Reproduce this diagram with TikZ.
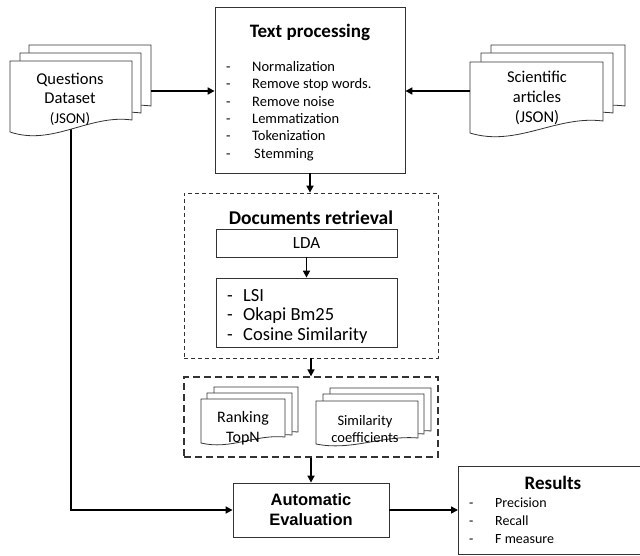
\documentclass[tikz,border=0pt]{standalone}
\usepackage{fontspec}
\setmainfont{Carlito}
\newfontfamily\arialfont{Liberation Sans}
\usetikzlibrary{positioning,arrows.meta}

\newcommand{\fs}[2]{\fontsize{#1}{#2}\selectfont}
\newcommand{\itm}[2]{\makebox[#1][l]{-}#2}
% one sheet of a stack: x1, y1, x2, y2 (bottom left), wave
\newcommand{\docpage}[5]{%
  \draw[page] (#1,#2) -- (#3,#2) -- (#3,{#4-#5})
    .. controls ({#3-0.35*(#3-#1)},{#4-1.5*#5}) and ({#1+0.35*(#3-#1)},{#4+1.2*#5}) .. (#1,#4) -- cycle;}

\begin{document}
\begin{tikzpicture}[
    x=1pt, y=-1pt,
    box/.style={
        rectangle, draw=black!80, fill=white,
        line width=0.8pt, inner sep=0pt
    },
    page/.style={draw=black!80, fill=white, line width=0.8pt},
    dashbox/.style={box, dash pattern=on 4pt off 3pt},
    heavydash/.style={box, line width=1.3pt, dash pattern=on 7pt off 4pt},
    arrow/.style={-{Triangle[length=7pt,width=7pt]}, line width=1.6pt}
]
    \useasboundingbox (0,0) rectangle (640,556);
    \clip (0,0) rectangle (640,556);

    % boxes
    \node[box, minimum width=190pt, minimum height=166pt] (txtproc) at (310,90) {};
    \node[font=\fs{19}{22}\bfseries] (txtproc-title) at (310,32) {Text processing};
    \node[anchor=north west, align=left, inner sep=0pt, font=\fs{14.5}{17.4}] (txtproc-list) at (226,61)
        {\itm{26pt}{Normalization}\\ \itm{26pt}{Remove stop words.}\\ \itm{26pt}{Remove noise}\\
         \itm{26pt}{Lemmatization}\\ \itm{26pt}{Tokenization}\\ \itm{26pt}{\hspace{2pt}Stemming}};

    \node[dashbox, minimum width=254pt, minimum height=165pt] (docret) at (311,275.5) {};
    \node[font=\fs{19.5}{22}\bfseries] (docret-title) at (311,218) {Documents retrieval};
    \node[box, minimum width=181pt, minimum height=28pt, font=\fs{17}{20}] (lda) at (306.5,243) {LDA};
    \node[box, minimum width=181pt, minimum height=69pt] (simlist) at (306.5,312.5) {};
    \node[anchor=west, align=left, inner sep=0pt, font=\fs{18.5}{19.5}] (simlist-txt) at (227,316)
        {\itm{16pt}{LSI}\\ \itm{16pt}{Okapi Bm25}\\ \itm{16pt}{Cosine Similarity}};

    \node[heavydash, minimum width=254pt, minimum height=80pt] (outbox) at (311,417) {};
    \node[box, minimum width=156pt, minimum height=54pt, align=center,
          font=\arialfont\bfseries\fs{16.5}{20}] (autoeval) at (311,510) {Automatic\\Evaluation};
    \node[box, anchor=north west, minimum width=200pt, minimum height=88pt] (results) at (458,466) {};
    \node[font=\fs{19}{22}\bfseries] (results-title) at (553,483) {Results};
    \node[anchor=north west, align=left, inner sep=0pt, font=\fs{14}{18}] (results-list) at (469,498)
        {\itm{26pt}{Precision}\\ \itm{26pt}{Recall}\\ \itm{26pt}{F measure}};

    % questions line runs under the sheets
    \coordinate (questB) at (71,125);
    \draw[arrow] (questB) |- (autoeval.west);

    % document stacks
    \docpage{29}{45}{151}{118}{12}
    \docpage{20}{53}{141}{125}{12}
    \docpage{10}{61}{132}{132}{12}
    \node[align=center, font=\fs{16.5}{19.5}] (quest) at (70,99) {Questions\\Dataset\\{\fs{15}{19.5}(JSON)}};
    \coordinate (questR) at (151,91);

    \docpage{491}{45}{625}{118}{12}
    \docpage{481}{53}{613}{125}{12}
    \docpage{470}{62}{603}{133}{12}
    \node[align=center, font=\fs{16.5}{20}] (sci) at (537,98) {Scientific\\articles\\(JSON)};
    \coordinate (sciL) at (470,91);

    \docpage{214}{387}{298}{438}{6}
    \docpage{207}{393}{292}{441}{6}
    \docpage{201}{399}{285}{443}{6}
    \node[align=center, font=\fs{16}{20}] (rank) at (243,428) {Ranking\\TopN};

    \docpage{330}{388}{431}{437}{6}
    \docpage{323}{394}{424}{440}{6}
    \docpage{316}{401}{418}{444}{6}
    \node[align=center, font=\fs{14.5}{17}] (simcoef) at (365,429) {Similarity\\coefficients};

    % connectors
    \draw[arrow] (questR) -- (questR -| txtproc.west);
    \draw[arrow] (sciL) -- (sciL -| txtproc.east);
    \draw[arrow] (txtproc.south) -- (txtproc.south |- docret.north);
    \draw[arrow] (lda.south) -- (simlist.north);
    \draw[arrow] (docret.south) -- (outbox.north);
    \draw[arrow] (outbox.south) -- (autoeval.north);
    \draw[arrow] (autoeval.east) -- (autoeval.east -| results.west);
\end{tikzpicture}
\end{document}
